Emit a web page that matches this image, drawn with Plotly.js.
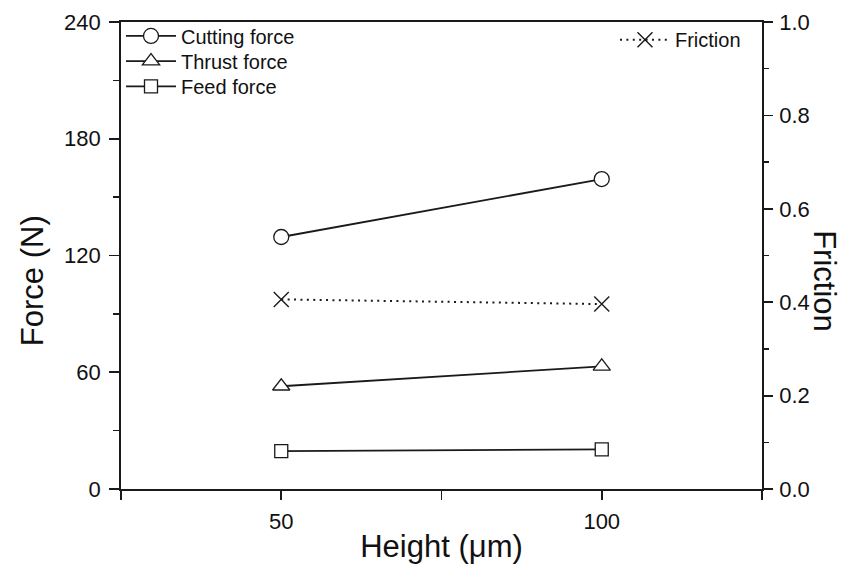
<!DOCTYPE html>
<html>
<head>
<meta charset="utf-8">
<script src="https://cdn.plot.ly/plotly-3.0.1.min.js"></script>
<style>html,body{margin:0;padding:0;background:#fff;}#chart{width:862px;height:564px;}</style>
</head>
<body>
<div id="chart"></div>
<script>
var heights = [50, 100];
var cuttingForce = [129.5, 159.3];
var thrustForce = [52.8, 63.0];
var feedForce = [19.5, 20.4];
var friction = [0.406, 0.396];
var xTickVals = [25, 50, 75, 100, 125];
var xTickText = ['', '50', '', '100', ''];

var ink = '#1a1a1a';
var font = 'Liberation Sans, Arial, sans-serif';

var traces = [
  {x: heights, y: cuttingForce, name: 'Cutting force', mode: 'lines+markers', type: 'scatter',
   legend: 'legend',
   line: {color: ink, width: 1.8},
   marker: {symbol: 'circle', size: 15, color: '#fff', line: {color: ink, width: 1.3}}},
  {x: heights, y: thrustForce, name: 'Thrust force', mode: 'lines+markers', type: 'scatter',
   legend: 'legend3',
   line: {color: ink, width: 1.8},
   marker: {symbol: 'triangle-up', size: 15, color: '#fff', line: {color: ink, width: 1.3}}},
  {x: heights, y: feedForce, name: 'Feed force', mode: 'lines+markers', type: 'scatter',
   legend: 'legend4',
   line: {color: ink, width: 1.8},
   marker: {symbol: 'square', size: 13, color: '#fff', line: {color: ink, width: 1.3}}},
  {x: heights, y: friction, name: 'Friction', mode: 'lines+markers', type: 'scatter', yaxis: 'y2',
   legend: 'legend2',
   line: {color: ink, width: 2, dash: '2px,4.4px'},
   marker: {symbol: 'x-thin', size: 15, color: ink, line: {color: ink, width: 1.4}}}
];

function leg(x, y, xanchor) {
  return {x: x, y: y, xanchor: xanchor, yanchor: 'top',
          bgcolor: 'rgba(0,0,0,0)', borderwidth: 0,
          font: {size: 20}, itemwidth: 50};
}

var layout = {
  width: 862, height: 564,
  margin: {l: 121, r: 100, t: 22, b: 75},
  paper_bgcolor: '#fff', plot_bgcolor: '#fff',
  font: {family: font, color: '#111', size: 22},
  showlegend: true,
  xaxis: {
    range: [25, 125], tickvals: xTickVals, ticktext: xTickText,
    showline: true, linecolor: ink, linewidth: 1.8, mirror: true,
    ticks: 'outside', ticklen: 9, tickwidth: 1.8, tickcolor: ink,
    showgrid: false, zeroline: false, ticklabelstandoff: 3,
    tickfont: {size: 22},
    title: {text: 'Height (\u03bcm)', font: {size: 31}, standoff: 2}
  },
  yaxis: {
    range: [0, 240], dtick: 60, tick0: 0,
    showline: true, linecolor: ink, linewidth: 1.8,
    ticks: 'outside', ticklen: 10, tickwidth: 1.8, tickcolor: ink,
    minor: {dtick: 30, ticks: 'outside', ticklen: 6, tickwidth: 1.5, tickcolor: ink, showgrid: false},
    showgrid: false, zeroline: false, ticklabelstandoff: 4,
    tickfont: {size: 22}
  },
  yaxis2: {
    range: [0, 1], dtick: 0.2, tick0: 0, tickformat: '.1f',
    overlaying: 'y', side: 'right',
    showline: true, linecolor: ink, linewidth: 1.8,
    ticks: 'outside', ticklen: 9, tickwidth: 1.8, tickcolor: ink,
    minor: {dtick: 0.1, ticks: 'outside', ticklen: 5, tickwidth: 1.5, tickcolor: ink, showgrid: false},
    showgrid: false, zeroline: false, ticklabelstandoff: 2,
    tickfont: {size: 22}
  },
  legend: leg(0, 1.012, 'left'),
  legend3: leg(0, 0.958, 'left'),
  legend4: leg(0, 0.904, 'left'),
  legend2: leg(0.975, 1.004, 'right'),
  annotations: [
    {text: 'Force (N)', xref: 'paper', yref: 'paper', x: 0, xshift: -89, y: 0.445,
     showarrow: false, textangle: -90, font: {size: 31, color: '#111'}, xanchor: 'center', yanchor: 'middle'},
    {text: 'Friction', xref: 'paper', yref: 'paper', x: 1, xshift: 63, y: 0.445,
     showarrow: false, textangle: 90, font: {size: 31, color: '#111'}, xanchor: 'center', yanchor: 'middle'}
  ]
};

Plotly.newPlot('chart', traces, layout, {displayModeBar: false, staticPlot: true});
</script>
</body>
</html>
